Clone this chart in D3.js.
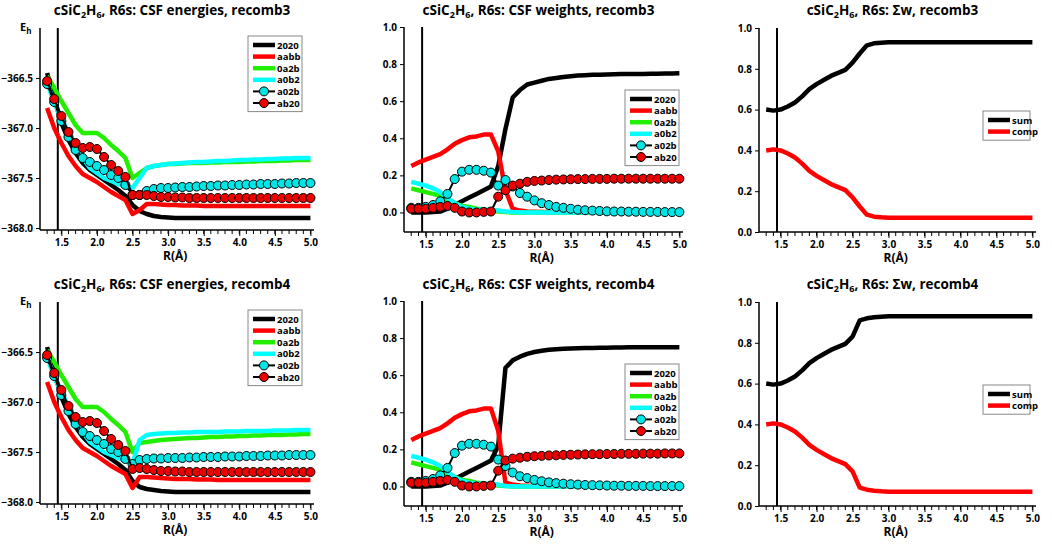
<!DOCTYPE html>
<html>
<head>
<meta charset="utf-8">
<script src="https://cdn.jsdelivr.net/npm/d3@7"></script>
<style>
  body { margin: 0; background: #fff; }
  text { font-family: "Open Sans", "Noto Sans", sans-serif; font-weight: bold; }
</style>
</head>
<body>
<svg width="1052" height="547"></svg>
<script>
// bond distances R (Å)
const R = [1.3,1.4,1.5,1.6,1.7,1.8,1.9,2.0,2.1,2.2,2.3,2.4,2.5,2.6,2.7,2.8,2.9,3.0,3.1,3.2,3.3,3.4,3.5,3.6,3.7,3.8,3.9,4.0,4.1,4.2,4.3,4.4,4.5,4.6,4.7,4.8,4.9,5.0];

// energies recomb3
const e3_2020 = [-366.45,-366.7,-366.95,-367.12,-367.25,-367.35,-367.42,-367.47,-367.52,-367.57,-367.62,-367.68,-367.77,-367.83,-367.86,-367.88,-367.89,-367.895,-367.9,-367.9,-367.9,-367.9,-367.9,-367.9,-367.9,-367.9,-367.9,-367.9,-367.9,-367.9,-367.9,-367.9,-367.9,-367.9,-367.9,-367.9,-367.9,-367.9];
const e3_aabb = [-366.8,-367.0,-367.15,-367.28,-367.38,-367.46,-367.5,-367.54,-367.59,-367.64,-367.68,-367.72,-367.86,-367.82,-367.76,-367.76,-367.765,-367.77,-367.77,-367.775,-367.775,-367.775,-367.78,-367.78,-367.78,-367.78,-367.78,-367.78,-367.78,-367.78,-367.78,-367.78,-367.78,-367.78,-367.78,-367.78,-367.78,-367.78];
const e3_0a2b = [-366.48,-366.6,-366.73,-366.85,-366.97,-367.05,-367.05,-367.05,-367.1,-367.17,-367.23,-367.3,-367.5,-367.45,-367.4,-367.38,-367.37,-367.36,-367.36,-367.355,-367.35,-367.35,-367.35,-367.345,-367.345,-367.34,-367.34,-367.34,-367.335,-367.335,-367.33,-367.33,-367.33,-367.325,-367.325,-367.32,-367.32,-367.32];
const e3_a0b2 = [-366.55,-366.75,-366.9,-367.05,-367.18,-367.3,-367.4,-367.45,-367.5,-367.53,-367.56,-367.58,-367.6,-367.5,-367.4,-367.38,-367.37,-367.36,-367.355,-367.35,-367.345,-367.34,-367.34,-367.335,-367.33,-367.33,-367.325,-367.32,-367.32,-367.315,-367.315,-367.31,-367.31,-367.305,-367.305,-367.3,-367.3,-367.3];
const e3_a02b = [-366.56,-366.74,-366.93,-367.09,-367.22,-367.3,-367.34,-367.38,-367.42,-367.47,-367.5,-367.57,-367.67,-367.67,-367.63,-367.61,-367.6,-367.6,-367.595,-367.59,-367.59,-367.585,-367.58,-367.58,-367.575,-367.575,-367.57,-367.57,-367.565,-367.565,-367.56,-367.56,-367.56,-367.555,-367.555,-367.55,-367.55,-367.55];
const e3_ab20 = [-366.53,-366.71,-366.88,-367.04,-367.15,-367.2,-367.19,-367.21,-367.29,-367.37,-367.43,-367.49,-367.67,-367.67,-367.67,-367.68,-367.69,-367.69,-367.695,-367.695,-367.7,-367.7,-367.7,-367.7,-367.7,-367.7,-367.7,-367.7,-367.7,-367.7,-367.7,-367.7,-367.7,-367.7,-367.7,-367.7,-367.7,-367.7];

// energies recomb4
const e4_2020 = [-366.45,-366.7,-366.95,-367.12,-367.25,-367.35,-367.42,-367.47,-367.52,-367.57,-367.62,-367.68,-367.79,-367.85,-367.87,-367.88,-367.89,-367.895,-367.9,-367.9,-367.9,-367.9,-367.9,-367.9,-367.9,-367.9,-367.9,-367.9,-367.9,-367.9,-367.9,-367.9,-367.9,-367.9,-367.9,-367.9,-367.9,-367.9];
const e4_aabb = [-366.8,-367.0,-367.15,-367.28,-367.38,-367.46,-367.5,-367.54,-367.59,-367.64,-367.68,-367.72,-367.86,-367.75,-367.75,-367.755,-367.76,-367.765,-367.77,-367.77,-367.77,-367.775,-367.775,-367.775,-367.78,-367.78,-367.78,-367.78,-367.78,-367.78,-367.78,-367.78,-367.78,-367.78,-367.78,-367.78,-367.78,-367.78];
const e4_0a2b = [-366.48,-366.6,-366.73,-366.85,-366.97,-367.05,-367.05,-367.05,-367.1,-367.17,-367.23,-367.3,-367.5,-367.41,-367.4,-367.39,-367.38,-367.375,-367.37,-367.365,-367.36,-367.36,-367.355,-367.35,-367.35,-367.345,-367.345,-367.34,-367.34,-367.335,-367.335,-367.33,-367.33,-367.33,-367.325,-367.325,-367.32,-367.32];
const e4_a0b2 = [-366.55,-366.75,-366.9,-367.05,-367.18,-367.3,-367.4,-367.45,-367.5,-367.53,-367.56,-367.58,-367.62,-367.38,-367.33,-367.32,-367.315,-367.31,-367.31,-367.305,-367.305,-367.3,-367.3,-367.3,-367.3,-367.295,-367.295,-367.295,-367.29,-367.29,-367.29,-367.29,-367.285,-367.285,-367.285,-367.28,-367.28,-367.28];
const e4_a02b = [-366.56,-366.74,-366.93,-367.09,-367.22,-367.3,-367.34,-367.38,-367.42,-367.47,-367.5,-367.57,-367.62,-367.58,-367.57,-367.565,-367.565,-367.56,-367.56,-367.56,-367.555,-367.555,-367.55,-367.55,-367.55,-367.545,-367.545,-367.545,-367.54,-367.54,-367.54,-367.535,-367.535,-367.535,-367.53,-367.53,-367.53,-367.53];
const e4_ab20 = [-366.53,-366.71,-366.88,-367.04,-367.15,-367.2,-367.19,-367.21,-367.29,-367.37,-367.43,-367.49,-367.67,-367.66,-367.67,-367.68,-367.69,-367.69,-367.695,-367.695,-367.7,-367.7,-367.7,-367.7,-367.7,-367.7,-367.7,-367.7,-367.7,-367.7,-367.7,-367.7,-367.7,-367.7,-367.7,-367.7,-367.7,-367.7];

// weights recomb3
const w3_2020 = [0,0,0,0.002,0.005,0.02,0.04,0.06,0.08,0.1,0.12,0.14,0.25,0.45,0.62,0.66,0.69,0.7,0.71,0.72,0.725,0.73,0.735,0.738,0.74,0.742,0.743,0.744,0.745,0.746,0.746,0.747,0.747,0.748,0.748,0.749,0.749,0.75];
const w3_aabb = [0.25,0.27,0.285,0.3,0.315,0.34,0.37,0.39,0.405,0.41,0.42,0.42,0.33,0.12,0.02,0.01,0.005,0.004,0.003,0.003,0.002,0.002,0.002,0.002,0.002,0.002,0.002,0.002,0.002,0.002,0.002,0.002,0.002,0.002,0.002,0.002,0.002,0.002];
const w3_0a2b = [0.13,0.12,0.11,0.1,0.09,0.07,0.05,0.035,0.03,0.02,0.015,0.01,0.005,0.002,0,0,0,0,0,0,0,0,0,0,0,0,0,0,0,0,0,0,0,0,0,0,0,0];
const w3_a0b2 = [0.165,0.155,0.145,0.13,0.11,0.08,0.05,0.03,0.02,0.015,0.015,0.015,0.01,0.005,0.002,0.001,0,0,0,0,0,0,0,0,0,0,0,0,0,0,0,0,0,0,0,0,0,0];
const w3_a02b = [0.025,0.025,0.03,0.04,0.06,0.1,0.18,0.22,0.23,0.23,0.225,0.215,0.145,0.175,0.14,0.105,0.085,0.065,0.05,0.04,0.03,0.025,0.02,0.015,0.012,0.01,0.008,0.006,0.005,0.005,0.004,0.004,0.003,0.003,0.003,0.002,0.002,0.002];
const w3_ab20 = [0.02,0.02,0.02,0.025,0.03,0.035,0.025,0.005,0,0,0.003,0.005,0.085,0.12,0.145,0.155,0.165,0.17,0.172,0.175,0.177,0.178,0.179,0.18,0.18,0.181,0.181,0.181,0.182,0.182,0.182,0.182,0.182,0.182,0.182,0.182,0.182,0.182];

// weights recomb4
const w4_2020 = [0,0,0,0.002,0.005,0.02,0.04,0.06,0.08,0.1,0.12,0.14,0.22,0.64,0.68,0.7,0.715,0.725,0.732,0.737,0.74,0.742,0.744,0.745,0.746,0.747,0.748,0.748,0.749,0.749,0.75,0.75,0.75,0.75,0.75,0.75,0.75,0.75];
const w4_aabb = [0.25,0.27,0.285,0.3,0.315,0.34,0.37,0.39,0.405,0.41,0.42,0.42,0.3,0.02,0.01,0.005,0.004,0.003,0.003,0.002,0.002,0.002,0.002,0.002,0.002,0.002,0.002,0.002,0.002,0.002,0.002,0.002,0.002,0.002,0.002,0.002,0.002,0.002];
const w4_0a2b = [0.13,0.12,0.11,0.1,0.09,0.07,0.05,0.035,0.03,0.02,0.015,0.01,0.005,0.002,0,0,0,0,0,0,0,0,0,0,0,0,0,0,0,0,0,0,0,0,0,0,0,0];
const w4_a0b2 = [0.165,0.155,0.145,0.13,0.11,0.08,0.05,0.03,0.02,0.015,0.015,0.015,0.01,0.002,0.001,0,0,0,0,0,0,0,0,0,0,0,0,0,0,0,0,0,0,0,0,0,0,0];
const w4_a02b = [0.025,0.025,0.03,0.04,0.06,0.1,0.18,0.22,0.23,0.23,0.225,0.215,0.145,0.11,0.075,0.055,0.045,0.035,0.028,0.022,0.018,0.015,0.012,0.01,0.008,0.007,0.006,0.005,0.004,0.004,0.003,0.003,0.003,0.002,0.002,0.002,0.002,0.002];
const w4_ab20 = [0.02,0.02,0.02,0.025,0.03,0.035,0.025,0.005,0,0,0.003,0.005,0.085,0.14,0.15,0.155,0.16,0.163,0.165,0.167,0.168,0.17,0.171,0.172,0.173,0.174,0.174,0.175,0.175,0.176,0.176,0.176,0.177,0.177,0.177,0.178,0.178,0.178];

// summed weights
const s3_sum  = [0.6,0.595,0.6,0.615,0.635,0.665,0.7,0.725,0.745,0.765,0.78,0.795,0.83,0.875,0.915,0.925,0.928,0.93,0.93,0.93,0.93,0.93,0.93,0.93,0.93,0.93,0.93,0.93,0.93,0.93,0.93,0.93,0.93,0.93,0.93,0.93,0.93,0.93];
const s3_comp = [0.4,0.405,0.4,0.385,0.365,0.335,0.3,0.275,0.255,0.235,0.22,0.205,0.17,0.125,0.085,0.075,0.072,0.07,0.07,0.07,0.07,0.07,0.07,0.07,0.07,0.07,0.07,0.07,0.07,0.07,0.07,0.07,0.07,0.07,0.07,0.07,0.07,0.07];
const s4_sum  = [0.6,0.595,0.6,0.615,0.635,0.665,0.7,0.725,0.745,0.765,0.78,0.795,0.83,0.91,0.92,0.925,0.928,0.93,0.93,0.93,0.93,0.93,0.93,0.93,0.93,0.93,0.93,0.93,0.93,0.93,0.93,0.93,0.93,0.93,0.93,0.93,0.93,0.93];
const s4_comp = [0.4,0.405,0.4,0.385,0.365,0.335,0.3,0.275,0.255,0.235,0.22,0.205,0.17,0.09,0.08,0.075,0.072,0.07,0.07,0.07,0.07,0.07,0.07,0.07,0.07,0.07,0.07,0.07,0.07,0.07,0.07,0.07,0.07,0.07,0.07,0.07,0.07,0.07];

const csfNames = ["2020", "aabb", "0a2b", "a0b2", "a02b", "ab20"];
const csfColors = ["#000000", "#ff0000", "#22ee00", "#00ffff", "#00e5e5", "#ee0000"];
const csfMarkers = [false, false, false, false, true, true];
const sumNames = ["sum", "comp"];
const sumColors = ["#000000", "#ff0000"];

const eTicks = [-368.0, -367.5, -367.0, -366.5];
const wTicks = [0.0, 0.2, 0.4, 0.6, 0.8, 1.0];
const rTicks = [1.5, 2.0, 2.5, 3.0, 3.5, 4.0, 4.5, 5.0];
const rVert = 1.45;

const svg = d3.select("svg");

function panel(opt) {
  const g = svg.append("g").attr("transform", "translate(0," + opt.dy + ")");
  const x = d3.scaleLinear().domain([1.2, 5.05]).range([opt.left, opt.left + opt.width]);
  const y = d3.scaleLinear().domain(opt.yDomain).range([opt.bottom, opt.top]);

  // title
  const t = g.append("text").attr("x", opt.left + opt.width / 2 - 5).attr("y", 15)
    .attr("text-anchor", "middle").attr("font-size", 13.5);
  t.append("tspan").text("cSiC");
  t.append("tspan").text("2").attr("font-size", 9).attr("dy", 3);
  t.append("tspan").text("H").attr("dy", -3);
  t.append("tspan").text("6").attr("font-size", 9).attr("dy", 3);
  t.append("tspan").text(", R6s: " + opt.title).attr("dy", -3);

  // y axis
  const ya = g.append("g").attr("transform", "translate(" + opt.left + ",0)")
    .call(d3.axisLeft(y).tickValues(opt.yTicks).tickSize(4).tickFormat(opt.fmt));
  ya.select(".domain").attr("stroke-width", 1.5).attr("d", "M0," + opt.top + "V" + opt.xAxisY);
  ya.selectAll("text").attr("font-size", 10).attr("font-weight", "bold").attr("font-family", "Open Sans");

  // x axis with minor ticks
  const xa = g.append("g").attr("transform", "translate(0," + opt.xAxisY + ")")
    .call(d3.axisBottom(x).tickValues(rTicks).tickSize(6).tickFormat(d3.format(".1f")));
  xa.select(".domain").attr("stroke-width", 1.5).attr("d", "M" + opt.left + ",0H" + (opt.left + opt.width));
  xa.selectAll("text").attr("font-size", 10).attr("font-weight", "bold").attr("font-family", "Open Sans");
  xa.selectAll(".minor").data(R).join("line").attr("class", "minor")
    .attr("x1", d => x(d)).attr("x2", d => x(d)).attr("y1", 0).attr("y2", 4)
    .attr("stroke", "#000");
  g.append("text").attr("x", x(3.1)).attr("y", opt.xAxisY + 30).attr("text-anchor", "middle")
    .attr("font-size", 12).text("R(Å)");

  if (opt.eLabel) {
    const el = g.append("text").attr("x", 20).attr("y", 31).attr("font-size", 11);
    el.append("tspan").text("E");
    el.append("tspan").text("h").attr("font-size", 8).attr("dy", 3);
  }

  // vertical marker line
  g.append("line").attr("x1", x(rVert)).attr("x2", x(rVert))
    .attr("y1", opt.top).attr("y2", opt.xAxisY).attr("stroke", "#000").attr("stroke-width", 2);

  const line = d3.line().x((d, i) => x(R[i])).y(d => y(d));
  opt.series.forEach((s, k) => {
    if (opt.markers[k]) {
      g.append("path").datum(s).attr("d", line).attr("fill", "none")
        .attr("stroke", "#000").attr("stroke-width", 2);
      g.append("g").selectAll("circle").data(s).join("circle")
        .attr("cx", (d, i) => x(R[i])).attr("cy", d => y(d)).attr("r", 4.5)
        .attr("fill", opt.colors[k]).attr("stroke", "#000").attr("stroke-width", 1);
    } else {
      g.append("path").datum(s).attr("d", line).attr("fill", "none")
        .attr("stroke", opt.colors[k]).attr("stroke-width", 4.5).attr("stroke-linejoin", "round");
    }
  });

  // legend
  const L = opt.legend;
  const lg = g.append("g").attr("transform", "translate(" + L.x + "," + L.y + ")");
  lg.append("rect").attr("width", L.w).attr("height", opt.names.length * 11.6 + 6)
    .attr("fill", "#fff").attr("stroke", "#888").attr("stroke-width", 1);
  opt.names.forEach((n, k) => {
    const yy = 9 + k * 11.6;
    if (opt.markers[k]) {
      lg.append("line").attr("x1", 5).attr("x2", 27).attr("y1", yy).attr("y2", yy)
        .attr("stroke", "#000").attr("stroke-width", 2);
      lg.append("circle").attr("cx", 16).attr("cy", yy).attr("r", 4.5)
        .attr("fill", opt.colors[k]).attr("stroke", "#000");
    } else {
      lg.append("line").attr("x1", 5).attr("x2", 27).attr("y1", yy).attr("y2", yy)
        .attr("stroke", opt.colors[k]).attr("stroke-width", 4.5);
    }
    lg.append("text").attr("x", 29).attr("y", yy + 3.5).attr("font-size", 9.5).text(n);
  });
}

const fmtE = d => d3.format(".1f")(d).replace("-", "\u2212");
const fmtW = d3.format(".1f");

[[0, "recomb3", [e3_2020, e3_aabb, e3_0a2b, e3_a0b2, e3_a02b, e3_ab20], [w3_2020, w3_aabb, w3_0a2b, w3_a0b2, w3_a02b, w3_ab20], [s3_sum, s3_comp]],
 [274, "recomb4", [e4_2020, e4_aabb, e4_0a2b, e4_a0b2, e4_a02b, e4_ab20], [w4_2020, w4_aabb, w4_0a2b, w4_a0b2, w4_a02b, w4_ab20], [s4_sum, s4_comp]]]
.forEach(([dy, tag, es, ws, ss]) => {
  panel({ dy, left: 40, width: 274, top: 28, bottom: 228, xAxisY: 230, yDomain: [-368, -366],
    yTicks: eTicks, fmt: fmtE, title: "CSF energies, " + tag, eLabel: true,
    series: es, colors: csfColors, markers: csfMarkers, names: csfNames,
    legend: { x: 248, y: 36, w: 54 } });
  panel({ dy, left: 404, width: 279, top: 27, bottom: 231, xAxisY: 232, yDomain: [-0.1, 1.0],
    yTicks: wTicks, fmt: fmtW, title: "CSF weights, " + tag,
    series: ws, colors: csfColors, markers: csfMarkers, names: csfNames,
    legend: { x: 625, y: 90, w: 54 } });
  panel({ dy, left: 759, width: 277, top: 28, bottom: 232, xAxisY: 232, yDomain: [0, 1],
    yTicks: wTicks, fmt: fmtW, title: "\u03a3w, " + tag,
    series: ss, colors: sumColors, markers: [false, false], names: sumNames,
    legend: { x: 983, y: 111, w: 47 } });
});
</script>
</body>
</html>
